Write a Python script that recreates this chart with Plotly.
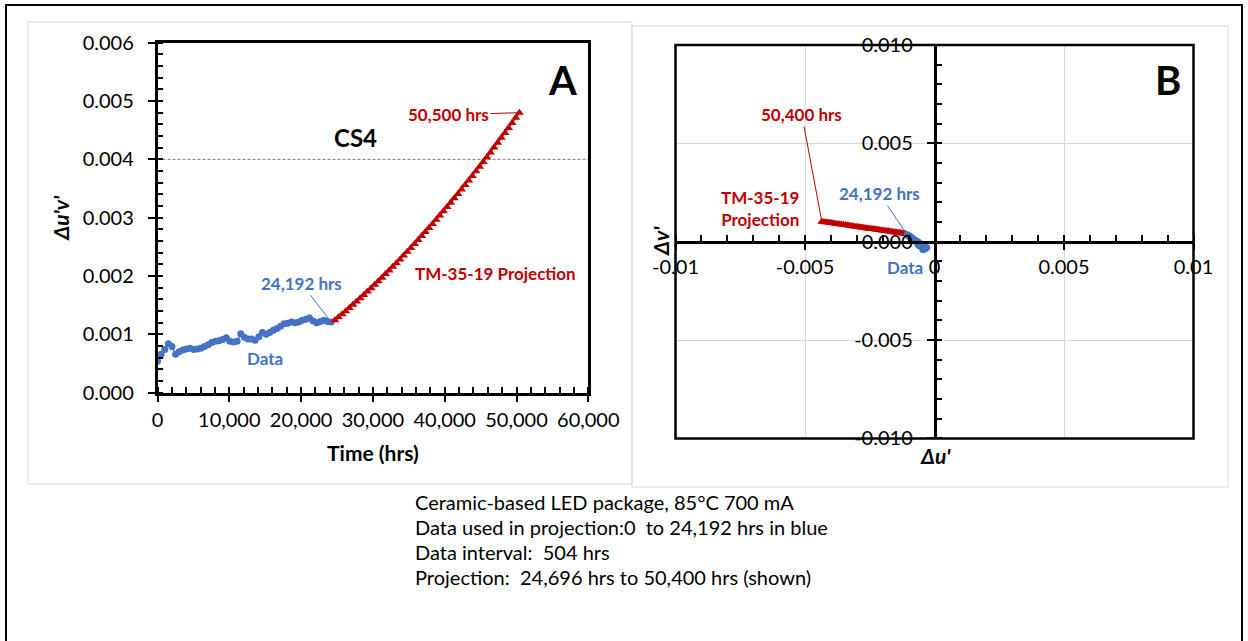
import plotly.graph_objects as go

W, H = 1248, 641
FONT = "Lato, Carlito, Calibri, sans-serif"
BLUE = "#4472C4"
RED = "#C00000"

# ---------------- data ----------------
data_hrs = [0, 504, 1008, 1512, 2016, 2520, 3024, 3528, 4032, 4536, 5040, 5544, 6048, 6552,
            7056, 7560, 8064, 8568, 9072, 9576, 10080, 10584, 11088, 11592, 12096, 12600,
            13104, 13608, 14112, 14616, 15120, 15624, 16128, 16632, 17136, 17640, 18144,
            18648, 19152, 19656, 20160, 20664, 21168, 21672, 22176, 22680, 23184, 23688, 24192]
data_duv = [0.00054, 0.00066, 0.00074, 0.00084, 0.00079, 0.00066, 0.00070, 0.00073, 0.00075,
            0.00076, 0.00074, 0.00075, 0.00076, 0.00079, 0.00082, 0.00086, 0.00088, 0.00089,
            0.00091, 0.00094, 0.00088, 0.00087, 0.00088, 0.00101, 0.00095, 0.00092, 0.00092,
            0.00090, 0.00096, 0.00103, 0.00100, 0.00103, 0.00107, 0.00110, 0.00114, 0.00118,
            0.00119, 0.00121, 0.00120, 0.00121, 0.00124, 0.00126, 0.00128, 0.00123, 0.00120,
            0.00122, 0.00124, 0.00122, 0.00121]
proj_hrs = [24696, 25200, 25704, 26208, 26712, 27216, 27720, 28224, 28728, 29232, 29736, 30240,
            30744, 31248, 31752, 32256, 32760, 33264, 33768, 34272, 34776, 35280, 35784, 36288,
            36792, 37296, 37800, 38304, 38808, 39312, 39816, 40320, 40824, 41328, 41832, 42336,
            42840, 43344, 43848, 44352, 44856, 45360, 45864, 46368, 46872, 47376, 47880, 48384,
            48888, 49392, 49896, 50400]
proj_duv = [0.001240, 0.001292, 0.001345, 0.001398, 0.001452, 0.001507, 0.001563, 0.001619,
            0.001676, 0.001734, 0.001792, 0.001851, 0.001911, 0.001972, 0.002033, 0.002095,
            0.002158, 0.002221, 0.002285, 0.002350, 0.002416, 0.002482, 0.002549, 0.002616,
            0.002685, 0.002754, 0.002824, 0.002894, 0.002965, 0.003037, 0.003110, 0.003183,
            0.003257, 0.003332, 0.003408, 0.003484, 0.003561, 0.003638, 0.003717, 0.003796,
            0.003875, 0.003956, 0.004037, 0.004119, 0.004202, 0.004285, 0.004369, 0.004454,
            0.004539, 0.004625, 0.004712, 0.004800]

data_du = [-0.00030, -0.00036, -0.00040, -0.00045, -0.00043, -0.00038, -0.00040, -0.00042,
           -0.00044, -0.00045, -0.00044, -0.00045, -0.00046, -0.00048, -0.00050, -0.00053,
           -0.00055, -0.00056, -0.00058, -0.00060, -0.00056, -0.00055, -0.00056, -0.00064,
           -0.00060, -0.00058, -0.00058, -0.00057, -0.00061, -0.00066, -0.00064, -0.00066,
           -0.00069, -0.00072, -0.00075, -0.00078, -0.00080, -0.00082, -0.00082, -0.00084,
           -0.00087, -0.00090, -0.00093, -0.00092, -0.00094, -0.00097, -0.00100, -0.00102,
           -0.00105]
data_dv = [-0.00030, -0.00034, -0.00038, -0.00040, -0.00038, -0.00034, -0.00032, -0.00030,
           -0.00029, -0.00028, -0.00027, -0.00026, -0.00025, -0.00024, -0.00023, -0.00022,
           -0.00021, -0.00020, -0.00019, -0.00018, -0.00016, -0.00015, -0.00014, -0.00012,
           -0.00011, -0.00010, -0.00009, -0.00008, -0.00006, -0.00004, -0.00002, 0.00000,
           0.00002, 0.00004, 0.00006, 0.00008, 0.00010, 0.00012, 0.00014, 0.00016, 0.00018,
           0.00020, 0.00022, 0.00024, 0.00026, 0.00028, 0.00030, 0.00032, 0.00035]
proj_du = [-0.001120, -0.001167, -0.001215, -0.001264, -0.001313, -0.001362, -0.001413,
           -0.001464, -0.001516, -0.001568, -0.001621, -0.001675, -0.001729, -0.001784,
           -0.001839, -0.001896, -0.001953, -0.002010, -0.002068, -0.002127, -0.002187,
           -0.002247, -0.002307, -0.002369, -0.002431, -0.002493, -0.002557, -0.002621,
           -0.002685, -0.002751, -0.002817, -0.002883, -0.002950, -0.003018, -0.003087,
           -0.003156, -0.003225, -0.003296, -0.003367, -0.003439, -0.003511, -0.003584,
           -0.003658, -0.003732, -0.003807, -0.003883, -0.003959, -0.004036, -0.004113,
           -0.004191, -0.004270, -0.004350]
proj_dv = [0.000400, 0.000409, 0.000418, 0.000428, 0.000437, 0.000447, 0.000456, 0.000466,
           0.000476, 0.000486, 0.000496, 0.000506, 0.000517, 0.000527, 0.000538, 0.000549,
           0.000560, 0.000571, 0.000582, 0.000593, 0.000605, 0.000616, 0.000628, 0.000640,
           0.000652, 0.000664, 0.000676, 0.000688, 0.000701, 0.000713, 0.000726, 0.000739,
           0.000751, 0.000764, 0.000778, 0.000791, 0.000804, 0.000818, 0.000831, 0.000845,
           0.000859, 0.000873, 0.000887, 0.000902, 0.000916, 0.000930, 0.000945, 0.000960,
           0.000975, 0.000990, 0.001005, 0.001020]

a_xticks = [0, 10000, 20000, 30000, 40000, 50000, 60000]
a_yticks = [0.000, 0.001, 0.002, 0.003, 0.004, 0.005, 0.006]
b_ticks = [-0.01, -0.005, 0, 0.005, 0.01]
b_xticklabels = ["-0.01", "-0.005", "0", "0.005", "0.01"]
b_yticklabels = ["-0.010", "-0.005", "0.000", "0.005", "0.010"]
threshold = 0.004

notes = ["Ceramic-based LED package, 85°C 700 mA",
         "Data used in projection:0&nbsp;&nbsp;to 24,192 hrs in blue",
         "Data interval:&nbsp;&nbsp;504 hrs",
         "Projection:&nbsp;&nbsp;24,696 hrs to 50,400 hrs (shown)"]


def px(x):
    return x / W


def py(y):
    return 1 - y / H


fig = go.Figure()
# Panel A
fig.add_trace(go.Scatter(x=data_hrs, y=data_duv, mode="lines+markers",
                         line=dict(color=BLUE, width=1.5),
                         marker=dict(color=BLUE, size=7), xaxis="x", yaxis="y"))
fig.add_trace(go.Scatter(x=proj_hrs, y=proj_duv, mode="lines+markers",
                         line=dict(color=RED, width=1.5),
                         marker=dict(color=RED, size=8, symbol="triangle-up"),
                         xaxis="x", yaxis="y"))
# Panel B
fig.add_trace(go.Scatter(x=proj_du, y=proj_dv, mode="lines+markers",
                         line=dict(color=RED, width=1.5),
                         marker=dict(color=RED, size=8, symbol="triangle-up"),
                         xaxis="x2", yaxis="y2"))
fig.add_trace(go.Scatter(x=data_du, y=data_dv, mode="lines+markers",
                         line=dict(color=BLUE, width=1.5),
                         marker=dict(color=BLUE, size=7), xaxis="x2", yaxis="y2"))

tickfont = dict(family=FONT, size=20, color="black")
axcommon = dict(showline=True, linecolor="black", linewidth=2.5, automargin=False,
                ticks="outside", ticklen=7, tickwidth=2, tickcolor="black",
                tickfont=tickfont, zeroline=False, fixedrange=True)

fig.update_layout(
    template="none",
    width=W, height=H, autosize=False,
    margin=dict(l=0, r=0, t=0, b=0, pad=0, autoexpand=False),
    paper_bgcolor="white", plot_bgcolor="white",
    showlegend=False,
    font=dict(family=FONT, color="black"),
    xaxis=dict(domain=[px(157.5), px(588.3)], range=[0, 60000], anchor="y",
               tickmode="array", tickvals=a_xticks, tickformat=",",
               mirror=True, showgrid=False, ticklabelstandoff=1,
               minor=dict(ticks="inside", ticklen=6, tickwidth=1.5, tickcolor="black",
                          tickmode="linear", tick0=0, dtick=2000, showgrid=False),
               title=dict(text="<b>Time (hrs)</b>", font=dict(family=FONT, size=21), standoff=16),
               **axcommon),
    yaxis=dict(domain=[py(392.7), py(42.7)], range=[0, 0.006], anchor="x",
               tickmode="array", tickvals=a_yticks, tickformat=".3f",
               mirror=True, showgrid=False, ticklabelstandoff=10,
               minor=dict(ticks="inside", ticklen=6, tickwidth=1.5, tickcolor="black",
                          tickmode="linear", tick0=0, dtick=0.0002, showgrid=False),
               title=dict(text="<b><i>Δu'v'</i></b>", font=dict(family=FONT, size=21), standoff=8),
               **axcommon),
    xaxis2=dict(domain=[px(675.5), px(1193.5)], range=[-0.01, 0.01], anchor="free",
                position=py(241.7), tickmode="array", tickvals=b_ticks, ticktext=b_xticklabels,
                showgrid=True, gridcolor="#D9D9D9", gridwidth=1, ticklabelstandoff=0,
                minor=dict(ticks="inside", ticklen=6, tickwidth=1.5, tickcolor="black",
                           tickmode="linear", tick0=0, dtick=0.001, showgrid=False),
                **axcommon),
    yaxis2=dict(domain=[py(438.4), py(45)], range=[-0.01, 0.01], anchor="free",
                position=px(934.5), tickmode="array", tickvals=b_ticks, ticktext=b_yticklabels,
                showgrid=True, gridcolor="#D9D9D9", gridwidth=1, ticklabelstandoff=10,
                minor=dict(ticks="inside", ticklen=6, tickwidth=1.5, tickcolor="black",
                           tickmode="linear", tick0=0, dtick=0.001, showgrid=False),
                **axcommon),
)

shapes = [
    dict(type="rect", xref="paper", yref="paper", x0=px(6), y0=py(5), x1=px(1242), y1=py(660),
         line=dict(color="black", width=2), layer="below"),
    dict(type="rect", xref="paper", yref="paper", x0=px(28), y0=py(22), x1=px(632), y1=py(484),
         line=dict(color="#D9D9D9", width=1), layer="below"),
    dict(type="rect", xref="paper", yref="paper", x0=px(632), y0=py(26), x1=px(1228), y1=py(487),
         line=dict(color="#D9D9D9", width=1), layer="below"),
    dict(type="rect", xref="x2 domain", yref="y2 domain", x0=0, y0=0, x1=1, y1=1,
         line=dict(color="black", width=2.5)),
    dict(type="line", xref="x", yref="y", x0=a_xticks[0], x1=a_xticks[-1], y0=threshold, y1=threshold,
         line=dict(color="#808080", width=1, dash="3px,2px"), layer="below"),
]
fig.update_layout(shapes=shapes)


def lbl(text, x, y, color, size=17, bold=True, xanchor="center", **kw):
    t = f"<b>{text}</b>" if bold else text
    return dict(text=t, x=x, y=y, xref="paper", yref="paper", showarrow=False,
                xanchor=xanchor, yanchor="middle",
                font=dict(family=FONT, size=size, color=color), **kw)


anns = [
    lbl("A", px(562), py(80), "black", size=40),
    lbl("B", px(1168), py(80), "black", size=40),
    lbl("CS4", px(355), py(137), "black", size=24),
    lbl("TM-35-19 Projection", px(495), py(273), RED),
    lbl("Data", px(265), py(358), BLUE),
    lbl("TM-35-19<br>Projection", px(760), py(208), RED),
    lbl("Data", px(905), py(267), BLUE),
    lbl("<i>Δu'</i>", px(935), py(455), "black", size=21),
    lbl("<i>Δv'</i>", px(660), py(241), "black", size=21, textangle=-90),
    # leader-line labels
    dict(text="<b>50,500 hrs</b>", x=proj_hrs[-1], y=proj_duv[-1], xref="x", yref="y",
         ax=-71, ay=2, showarrow=True, arrowhead=0, arrowwidth=1, arrowcolor=RED,
         font=dict(family=FONT, size=17, color=RED)),
    dict(text="<b>24,192 hrs</b>", x=data_hrs[-1], y=data_duv[-1], xref="x", yref="y",
         ax=-30, ay=-39, showarrow=True, arrowhead=0, arrowwidth=1, arrowcolor=BLUE,
         standoff=2, font=dict(family=FONT, size=17, color=BLUE)),
    dict(text="<b>50,400 hrs</b>", x=proj_du[-1], y=proj_dv[-1], xref="x2", yref="y2",
         ax=-20, ay=-107, showarrow=True, arrowhead=0, arrowwidth=1, arrowcolor=RED,
         font=dict(family=FONT, size=17, color=RED)),
    dict(text="<b>24,192 hrs</b>", x=data_du[-1], y=data_dv[-1], xref="x2", yref="y2",
         ax=-28, ay=-41, showarrow=True, arrowhead=0, arrowwidth=1, arrowcolor=BLUE,
         standoff=2, font=dict(family=FONT, size=17, color=BLUE)),
]
for i, line in enumerate(notes):
    anns.append(lbl(line, px(413), py(502 + 25 * i), "black", size=20, bold=False,
                    xanchor="left"))
fig.update_layout(annotations=anns)

fig.write_html("out.html")
